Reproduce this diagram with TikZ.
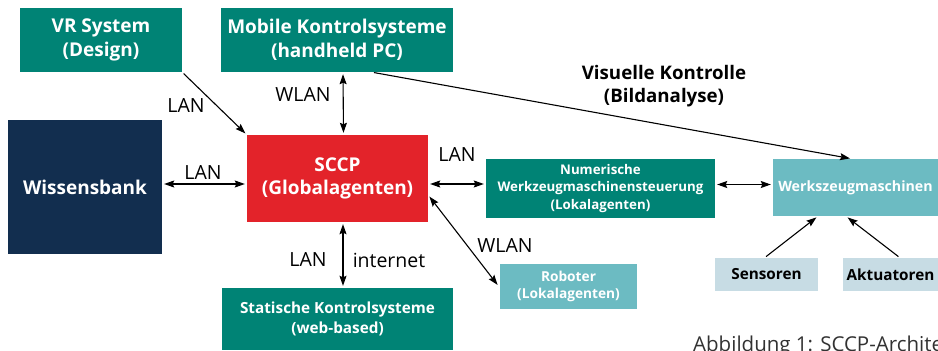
\documentclass[tikz,border=0pt]{standalone}
\usepackage{fontspec}
\setmainfont{Open Sans}
\usetikzlibrary{arrows.meta}
\definecolor{teal1}{RGB}{0,131,117}
\definecolor{navy1}{RGB}{18,46,79}
\definecolor{red1}{RGB}{227,35,42}
\definecolor{lteal}{RGB}{108,187,194}
\definecolor{lgray}{RGB}{199,220,228}
\definecolor{capgray}{RGB}{50,50,50}
\tikzset{
  box/.style={rectangle, inner sep=0pt, align=center, font=\bfseries\fontsize{19}{23.5}\selectfont, text=white},
  greenbox/.style={box, fill=teal1},
  smallbox/.style={box, font=\bfseries\fontsize{13.3}{17.5}\selectfont},
  conn/.style={line width=1.1pt, shorten >=2pt, shorten <=2pt},
  one/.style={conn, -{Stealth[length=10pt,width=7pt,inset=1.5pt]}},
  two/.style={conn, {Stealth[length=10pt,width=7pt,inset=1.5pt]}-{Stealth[length=10pt,width=7pt,inset=1.5pt]}},
  lbl/.style={font=\fontsize{19.5}{22}\selectfont, inner sep=0pt},
  blbl/.style={font=\bfseries\fontsize{18.7}{23}\selectfont, inner sep=0pt, align=center}
}
\begin{document}
\begin{tikzpicture}[x=1pt, y=-1pt]
\useasboundingbox (0,0) rectangle (938,351);
\clip (0,0) rectangle (938,351);

% boxes
\node[greenbox, minimum width=162pt, minimum height=64pt] (vr) at (101,40) {VR System\\(Design)};
\node[greenbox, minimum width=232pt, minimum height=64pt] (mobile) at (337,40) {Mobile Kontrolsysteme\\(handheld PC)};
\node[box, fill=navy1, minimum width=154pt, minimum height=134pt] (wiss) at (85,187) {Wissensbank};
\node[box, fill=red1, minimum width=181pt, minimum height=87pt] (sccp) at (337.5,178.5) {SCCP\\(Globalagenten)};
\node[smallbox, fill=teal1, minimum width=229pt, minimum height=59pt] (num) at (600.5,188.5) {Numerische\\Werkzeugmaschinensteuerung\\(Lokalagenten)};
\node[box, fill=lteal, font=\bfseries\fontsize{14.2}{18}\selectfont, minimum width=165pt, minimum height=57pt] (werk) at (855.5,187.5) {Werkszeugmaschinen};
\node[box, fill=lteal, font=\bfseries\fontsize{13.7}{17}\selectfont, minimum width=137pt, minimum height=45pt] (rob) at (568.5,286.5) {Roboter\\(Lokalagenten)};
\node[box, fill=lgray, text=black, font=\bfseries\fontsize{15.3}{18}\selectfont, minimum width=103pt, minimum height=33pt] (sens) at (766.5,274.5) {Sensoren};
\node[box, fill=lgray, text=black, font=\bfseries\fontsize{15.3}{18}\selectfont, minimum width=95pt, minimum height=33pt] (akt) at (890.5,274.5) {Aktuatoren};
\node[greenbox, font=\bfseries\fontsize{15.3}{20}\selectfont, minimum width=231pt, minimum height=62pt] (stat) at (337.5,319) {Statische Kontrolsysteme\\(web-based)};

% connectors
\draw[one] (vr.south east) -- (sccp.north west);
\draw[two] ([xshift=6pt]mobile.south) -- ([xshift=6pt]sccp.north);
\draw[two] ([yshift=3pt]wiss.east) -- ([yshift=-5.5pt]sccp.west);
\draw[two] ([yshift=-5.5pt]sccp.east) -- ([yshift=4.5pt]num.west);
\draw[two] ([yshift=4pt]num.east) -- ([yshift=3pt]werk.west);
\draw[two] ([yshift=-16.5pt]sccp.east) -- ([xshift=-1pt]rob.west);
\draw[two] ([xshift=5.5pt]sccp.south) -- ([xshift=5.5pt]stat.north);
\draw[one] ([xshift=35pt]mobile.south) -- ([xshift=-3.5pt]werk.north);
\draw[one] ([xshift=-2pt]sens.north) -- ([xshift=-37.5pt]werk.south);
\draw[one] ([xshift=9.5pt]akt.north) -- ([xshift=-9.5pt]werk.south);

% connector labels
\node[lbl] (l1) at (186,106) {LAN};
\node[lbl] (l2) at (303,95) {WLAN};
\node[lbl] (l3) at (203,173) {LAN};
\node[lbl] (l4) at (457,155) {LAN};
\node[lbl] (l5) at (505,246) {WLAN};
\node[lbl] (l6) at (308,260) {LAN};
\node[lbl] (l7) at (389,260) {internet};
\node[blbl] (vis) at (664,86.5) {Visuelle Kontrolle\\(Bildanalyse)};

% caption
\node[anchor=base west, inner sep=0pt, text=capgray, font=\fontsize{20.5}{24}\selectfont] (cap) at (693,351) {Abbildung 1: SCCP-Archite};
\end{tikzpicture}
\end{document}
